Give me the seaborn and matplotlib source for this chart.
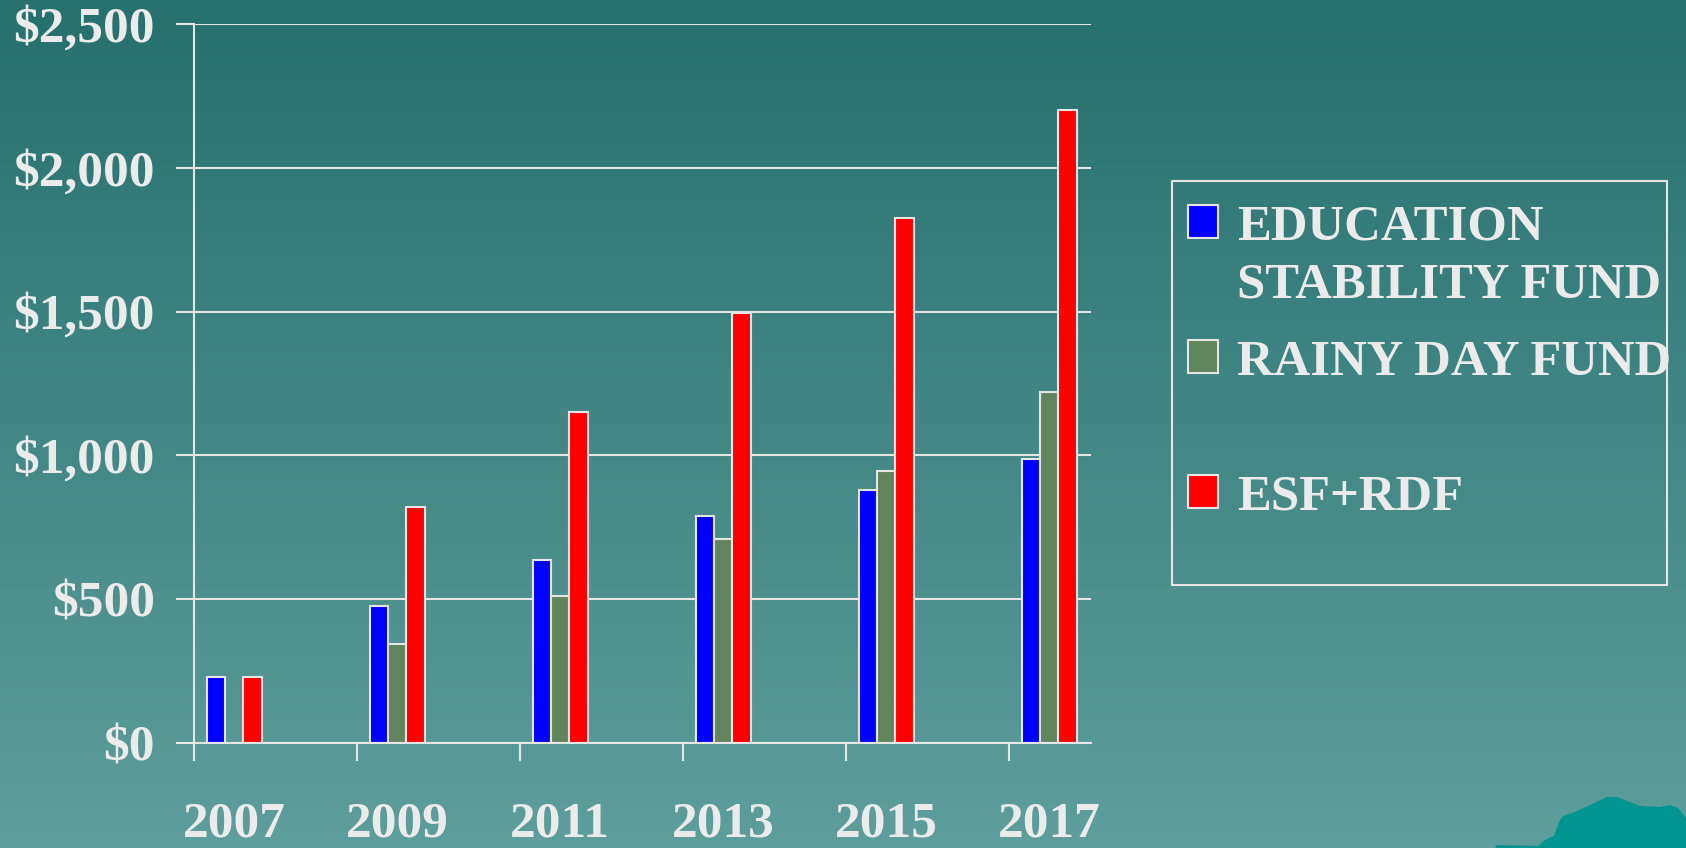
import numpy as np
import pandas as pd
import seaborn as sns
import matplotlib
matplotlib.use("Agg")
from matplotlib import pyplot as plt
from matplotlib.patches import Rectangle, Polygon

# Data (millions of dollars)
years = ["2007", "2009", "2011", "2013", "2015", "2017"]
esf = [230, 475, 638, 789, 881, 986]
rdf = [np.nan, 345, 512, 711, 944, 1219]
esf_rdf = [230, 820, 1150, 1495, 1826, 2200]
funds = ["EDUCATION\nSTABILITY FUND", "RAINY DAY FUND", "ESF+RDF"]
fund_colors = ["#0000FF", "#60855C", "#FF0000"]
y_ticks = [0, 500, 1000, 1500, 2000, 2500]

txt = "#EBEBEB"
line = "#E6E6E6"

# long-form table for seaborn
df = pd.DataFrame({
    "year": years * 3,
    "fund": [f for f in funds for _ in years],
    "value": esf + rdf + esf_rdf,
}).dropna()

sns.set_style("white")
plt.rcParams["font.family"] = ["Liberation Serif", "DejaVu Serif"]
plt.rcParams["font.weight"] = "bold"

fig = plt.figure(figsize=(16.86, 8.48), dpi=100)

# background gradient
bg = fig.add_axes([0, 0, 1, 1], zorder=-10)
grad = np.linspace(0, 1, 256)[:, None]
cmap = matplotlib.colors.LinearSegmentedColormap.from_list("bg", ["#26706E", "#5E9E9C"])
bg.imshow(grad, aspect="auto", cmap=cmap, extent=[0, 1, 0, 1], origin="upper")
bg.set_xlim(0, 1)
bg.set_ylim(0, 1)
bg.axis("off")

# little mountain decoration, bottom right
W, H = 1686, 848
pts = [(1495, 848), (1497, 845), (1538, 846), (1545, 840), (1554, 836), (1560, 820),
       (1563, 816), (1572, 813), (1590, 805), (1607, 797), (1617, 797), (1640, 806),
       (1660, 807), (1670, 805), (1678, 808), (1686, 818), (1686, 848)]
bg.add_patch(Polygon([(x / W, 1 - y / H) for x, y in pts], closed=True,
                     facecolor="#009590", edgecolor="none"))

ax = fig.add_axes([0.1148, 0.1238, 0.5323, 0.848])
ax.set_facecolor("none")

sns.barplot(data=df, x="year", y="value", hue="fund", order=years, hue_order=funds,
            palette=fund_colors, saturation=1, width=0.336, edgecolor=line,
            linewidth=1.5, legend=False, ax=ax)

ax.set_xlim(-0.25, 5.256)
ax.set_ylim(0, 2500)
ax.set_xlabel("")
ax.set_ylabel("")

ax.set_yticks(y_ticks)
ax.set_yticklabels([f"${v:,}" for v in y_ticks])
ax.set_xticks(range(len(years)))
ax.set_xticklabels(years)
ax.set_xticks(np.arange(len(years)) - 0.25, minor=True)

ax.tick_params(axis="y", left=True, length=13, width=1.5, color=line, pad=15,
               labelsize=37, labelcolor=txt)
ax.tick_params(axis="x", which="major", bottom=True, length=0, pad=42,
               labelsize=37, labelcolor=txt)
ax.tick_params(axis="x", which="minor", bottom=True, length=13, width=1.5,
               color=line, direction="out")
for lab in ax.get_xticklabels() + ax.get_yticklabels():
    lab.set_fontweight("bold")

ax.yaxis.grid(True, color=line, linewidth=1.5)
ax.set_axisbelow(True)
for side in ["top", "right"]:
    ax.spines[side].set_visible(False)
for side in ["left", "bottom"]:
    ax.spines[side].set_color(line)
    ax.spines[side].set_linewidth(1.5)

# legend box, drawn by hand so the patches line up with the first text line
fig.add_artist(Rectangle((1172 / W, 1 - 585 / H), 495 / W, 404 / H, transform=fig.transFigure,
                         facecolor="none", edgecolor=line, linewidth=1.5))
patch_top = [205, 340, 475]
text_top = [205, 340, 475]
for name, col, ptop, tt in zip(funds, fund_colors, patch_top, text_top):
    fig.add_artist(Rectangle((1188 / W, 1 - (ptop + 33) / H), 30 / W, 33 / H,
                             transform=fig.transFigure, facecolor=col,
                             edgecolor=line, linewidth=1.5))
    fig.text(1237 / W, 1 - tt / H, name, color=txt, fontsize=36.5, fontweight="bold",
             va="top", ha="left", linespacing=1.34)

fig.savefig("out.png", dpi=100)
